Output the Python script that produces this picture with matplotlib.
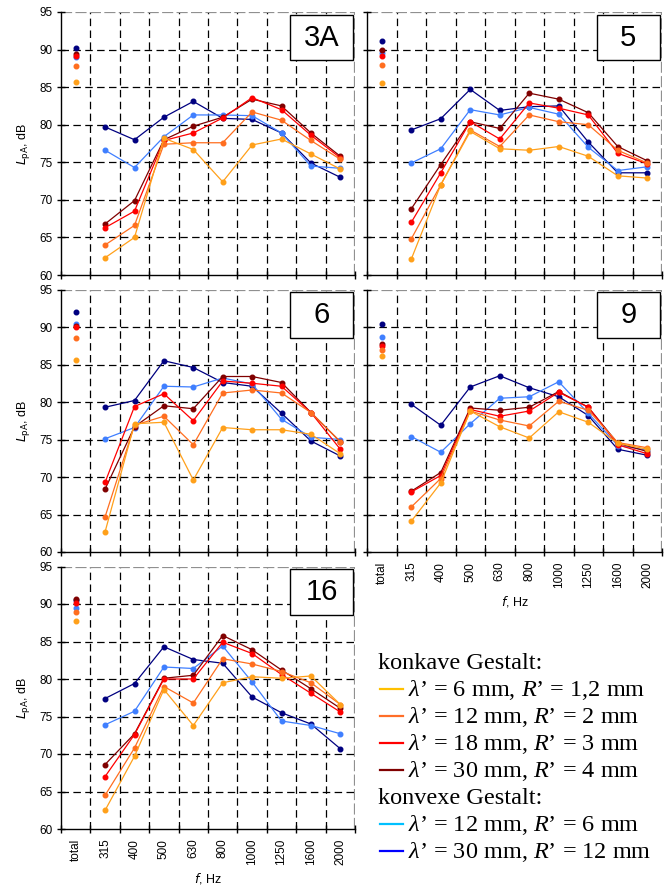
import matplotlib
matplotlib.use("Agg")
import matplotlib.pyplot as plt
from matplotlib.lines import Line2D
from matplotlib.patches import Rectangle

plt.rcParams['font.family'] = ['Liberation Sans', 'DejaVu Sans']
plt.rcParams['mathtext.fontset'] = 'custom'
plt.rcParams['mathtext.rm'] = 'Liberation Serif'
plt.rcParams['mathtext.it'] = 'Liberation Serif:italic'

# categories on the x axis
freqs = ['total', '315', '400', '500', '630', '800', '1000', '1250', '1600', '2000']
yticks = [60, 65, 70, 75, 80, 85, 90, 95]

# series order: konvex 30/12, konvex 12/6, konkav 30/4, konkav 18/3, konkav 12/2, konkav 6/1.2
line_colors = ['#000080', '#3F7FFF', '#800000', '#FF0000', '#FF6E1F', '#FFA01A']
legend_colors = ['#FFC000', '#FF6E28', '#FF0000', '#800000', '#00C0FF', '#0000FF']

panel_3A = [
    [90.2, 79.7, 78.0, 81.0, 83.1, 80.85, 80.7, 78.9, 74.9, 73.0],
    [89.0, 76.6, 74.3, 78.4, 81.3, 81.3, 81.2, 78.9, 74.5, 74.2],
    [89.4, 66.8, 69.9, 78.0, 79.8, 81.0, 83.4, 82.5, 78.9, 75.8],
    [89.2, 66.3, 68.5, 77.9, 78.9, 80.9, 83.6, 82.0, 78.6, 75.6],
    [87.8, 64.0, 66.6, 77.4, 77.6, 77.6, 81.7, 80.6, 77.9, 75.4],
    [85.7, 62.3, 65.0, 78.2, 76.7, 72.4, 77.3, 78.1, 76.1, 74.1],
]
panel_5 = [
    [91.2, 79.3, 80.8, 84.7, 81.9, 82.4, 82.5, 77.7, 73.6, 73.6],
    [89.6, 74.9, 76.8, 82.0, 81.3, 82.3, 81.4, 77.0, 73.9, 74.4],
    [90.0, 68.8, 74.7, 80.4, 79.5, 84.2, 83.4, 81.6, 77.1, 75.2],
    [89.2, 67.0, 73.6, 80.4, 78.1, 82.9, 82.2, 81.3, 76.2, 74.8],
    [88.0, 64.8, 72.0, 79.3, 77.1, 81.3, 80.4, 80.0, 76.6, 74.9],
    [85.5, 62.1, 72.0, 79.1, 76.8, 76.6, 77.1, 75.8, 73.2, 72.9],
]
panel_6 = [
    [92.0, 79.3, 80.2, 85.5, 84.6, 82.6, 82.1, 78.5, 74.8, 72.8],
    [90.4, 75.1, 76.6, 82.1, 82.0, 83.2, 82.4, 77.7, 75.3, 75.0],
    [90.1, 68.4, 76.7, 79.5, 79.1, 83.4, 83.4, 82.6, 78.6, 74.7],
    [90.0, 69.3, 79.4, 81.1, 77.5, 82.8, 82.5, 82.1, 78.6, 73.7],
    [88.5, 64.7, 76.9, 78.1, 74.3, 81.2, 81.6, 81.2, 78.6, 74.7],
    [85.6, 62.7, 77.1, 77.3, 69.6, 76.6, 76.3, 76.3, 75.7, 73.1],
]
panel_9 = [
    [90.4, 79.7, 76.9, 82.0, 83.5, 81.9, 80.7, 78.2, 73.7, 72.9],
    [88.7, 75.4, 73.3, 77.1, 80.5, 80.7, 82.7, 78.5, 74.2, 73.6],
    [87.8, 68.1, 70.6, 79.2, 78.9, 79.3, 81.4, 79.3, 74.5, 73.4],
    [87.5, 68.0, 70.2, 79.0, 78.1, 78.8, 81.3, 79.3, 74.3, 73.1],
    [86.9, 66.0, 69.8, 78.8, 77.6, 76.8, 80.1, 78.9, 74.6, 73.9],
    [86.2, 64.1, 69.2, 78.8, 76.7, 75.2, 78.7, 77.3, 74.5, 73.7],
]
panel_16 = [
    [90.6, 77.4, 79.4, 84.3, 82.6, 82.1, 77.6, 75.5, 74.0, 70.7],
    [89.5, 73.9, 75.7, 81.6, 81.4, 84.4, 79.6, 74.4, 73.8, 72.7],
    [90.7, 68.6, 72.7, 80.1, 80.5, 85.8, 83.9, 81.2, 78.7, 76.1],
    [90.1, 67.0, 72.6, 80.0, 80.0, 84.9, 83.4, 80.6, 78.1, 75.6],
    [89.0, 64.5, 70.8, 79.0, 76.8, 82.7, 82.0, 81.0, 79.5, 76.6],
    [87.8, 62.5, 69.7, 78.6, 73.8, 79.5, 80.3, 80.1, 80.4, 76.6],
]

legend_head = ['konkave Gestalt:', 'konvexe Gestalt:']
legend_items = [
    r'$\lambda$’ = 6 mm, $R$’ = 1,2 mm',
    r'$\lambda$’ = 12 mm, $R$’ = 2 mm',
    r'$\lambda$’ = 18 mm, $R$’ = 3 mm',
    r'$\lambda$’ = 30 mm, $R$’ = 4 mm',
    r'$\lambda$’ = 12 mm, $R$’ = 6 mm',
    r'$\lambda$’ = 30 mm, $R$’ = 12 mm',
]

W, H = 668, 889
fig = plt.figure(figsize=(W / 100, H / 100), dpi=100)


def px_axes(x0, y0, x1, y1):
    return fig.add_axes([x0 / W, 1 - y1 / H, (x1 - x0) / W, (y1 - y0) / H])


def draw_panel(ax, data, name, left, bottom):
    n = len(freqs)
    xs = list(range(n))
    ax.set_xlim(-0.5, n - 0.5)
    ax.set_ylim(60, 95)
    dash = (0, (6, 3.5))
    for b in range(1, n):
        ax.axvline(b - 0.5, color='black', lw=0.9, ls=dash, zorder=1)
    ax.axvline(n - 0.5, color='#909090', lw=1.6, ls=(0, (5, 1.5)), zorder=1)
    for v in yticks[1:-1]:
        ax.axhline(v, color='black', lw=0.9, ls=dash, zorder=1)
    ax.axhline(95, color='#909090', lw=1.6, ls=(0, (5, 1.5)), zorder=1)
    for k, s in enumerate(data):
        col = line_colors[k]
        ax.plot(xs[1:], s[1:], color=col, lw=0.9, marker='o', ms=3.3,
                mec=col, mfc=col, zorder=3 + k * 0.1)
        ax.plot(xs[0], s[0], ls='none', marker='o', ms=3.3, color=col,
                zorder=3 + k * 0.1)
    for sp in ['top', 'right']:
        ax.spines[sp].set_visible(False)
    ax.spines['left'].set_linewidth(1.0)
    ax.spines['bottom'].set_linewidth(1.0)
    ax.set_yticks(yticks)
    if left:
        ax.set_yticklabels([str(v) for v in yticks], fontsize=8.5)
    else:
        ax.set_yticklabels([])
    ax.tick_params(axis='y', direction='inout', length=6, width=1.0, pad=3)
    ax.set_xticks([i - 0.5 for i in range(n + 1)])
    ax.set_xticklabels([])
    ax.set_xticks(xs, minor=True)
    ax.tick_params(axis='x', which='major', direction='inout', length=6, width=1.0)
    ax.tick_params(axis='x', which='minor', length=0, pad=7)
    if bottom:
        ax.set_xticklabels(freqs, minor=True, rotation=90, fontsize=8.5)
        ax.set_xlabel(r'$f$, Hz', fontsize=9, labelpad=4,
                      math_fontfamily='dejavusans')
    if left:
        ax.set_ylabel(r'$L_{\rm pA}$, dB', fontsize=9, labelpad=5,
                      math_fontfamily='dejavusans')
    ax.add_patch(Rectangle((0.779, 0.817), 0.214, 0.172, transform=ax.transAxes,
                           facecolor='white', edgecolor='black', lw=1.0, zorder=5))
    ax.text(0.886, 0.903, name, transform=ax.transAxes, ha='center', va='center',
            fontsize=21, zorder=6)
    ax.set_facecolor('white')


rows = [(12, 275), (289.5, 552), (566.5, 829)]
ax5 = px_axes(367, rows[0][0], 662, rows[0][1])
draw_panel(ax5, panel_5, '5', False, False)
ax9 = px_axes(367, rows[1][0], 662, rows[1][1])
draw_panel(ax9, panel_9, '9', False, True)
ax3 = px_axes(61, rows[0][0], 355, rows[0][1])
draw_panel(ax3, panel_3A, '3A', True, False)
ax6 = px_axes(61, rows[1][0], 355, rows[1][1])
draw_panel(ax6, panel_6, '6', True, False)
ax16 = px_axes(61, rows[2][0], 355, rows[2][1])
draw_panel(ax16, panel_16, '16', True, True)

# legend block
base = 669
step = 27.0
lines = [legend_head[0]] + legend_items[:4] + [legend_head[1]] + legend_items[4:]
ci = 0
for i, t in enumerate(lines):
    yb = base + i * step
    if t in legend_head:
        fig.text(378 / W, 1 - yb / H, t, fontsize=17.5, family='Liberation Serif',
                 va='baseline', ha='left')
    else:
        fig.add_artist(Line2D([380 / W, 403 / W], [1 - (yb - 7) / H] * 2,
                              color=legend_colors[ci], lw=1.6))
        fig.text(408 / W, 1 - yb / H, t, fontsize=17.5, family='Liberation Serif',
                 va='baseline', ha='left')
        ci += 1

fig.savefig('out.png', dpi=100)
